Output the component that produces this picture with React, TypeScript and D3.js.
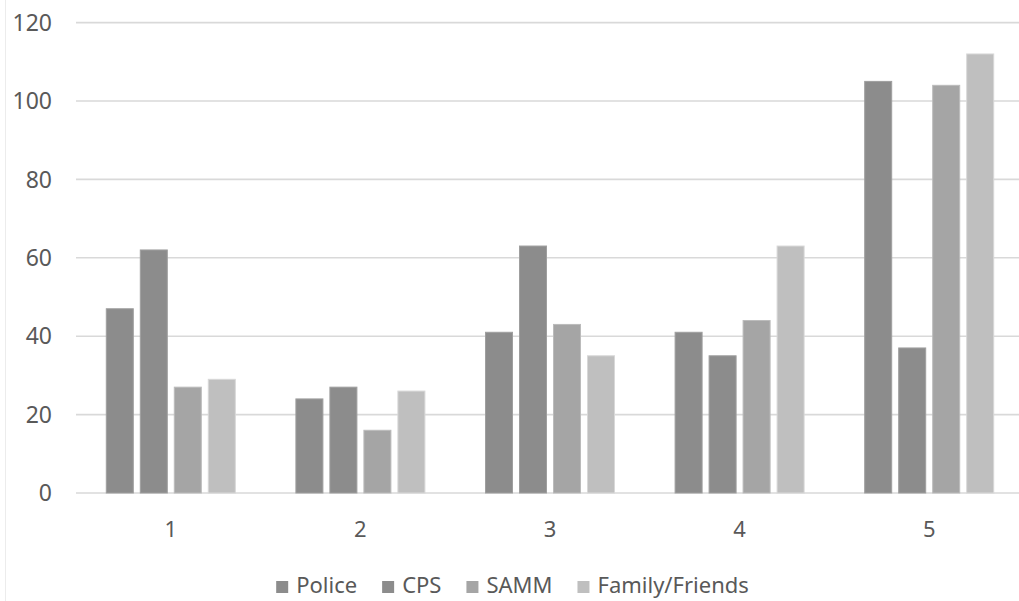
import React, { useEffect, useRef } from "react";
import * as d3 from "d3";

// Chart data
const categories = ["1", "2", "3", "4", "5"];
const seriesNames = ["Police", "CPS", "SAMM", "Family/Friends"];
const police = [47, 24, 41, 41, 105];
const cps = [62, 27, 63, 35, 37];
const samm = [27, 16, 43, 44, 104];
const familyFriends = [29, 26, 35, 63, 112];
const yTicks = [0, 20, 40, 60, 80, 100, 120];

const seriesValues = [police, cps, samm, familyFriends];
const seriesColors = ["#8c8c8c", "#8c8c8c", "#a5a5a5", "#bfbfbf"];

const W = 1019;
const H = 601;
const FONT = "'Noto Sans', 'Open Sans', sans-serif";
const TEXT = "#595959";

export default function App() {
  const ref = useRef<SVGSVGElement | null>(null);

  useEffect(() => {
    const svg = d3.select(ref.current);
    svg.selectAll("*").remove();

    const left = 76;
    const right = 1024;
    const top = 22.6;
    const bottom = 493;

    const x = d3.scaleBand<string>().domain(categories).range([left, right]);
    const y = d3.scaleLinear().domain([0, 120]).range([bottom, top]);

    // thin chart-area border at the left
    svg
      .append("line")
      .attr("x1", 5.5)
      .attr("x2", 5.5)
      .attr("y1", 0)
      .attr("y2", H)
      .attr("stroke", "#ececec")
      .attr("stroke-width", 1);

    // gridlines
    svg
      .append("g")
      .selectAll("line")
      .data(yTicks)
      .join("line")
      .attr("x1", left)
      .attr("x2", right)
      .attr("y1", (d) => y(d))
      .attr("y2", (d) => y(d))
      .attr("stroke", "#d9d9d9")
      .attr("stroke-width", 1.6);

    // y tick labels
    svg
      .append("g")
      .selectAll("text")
      .data(yTicks)
      .join("text")
      .attr("x", 52)
      .attr("y", (d) => y(d))
      .attr("dy", "0.36em")
      .attr("text-anchor", "end")
      .attr("font-family", FONT)
      .attr("font-size", 23)
      .attr("fill", TEXT)
      .text((d) => String(d));

    // bars: clustered within each category band
    const bw = x.bandwidth();
    const groupWidth = 129;
    const inner = d3
      .scaleBand<string>()
      .domain(seriesNames)
      .range([0, groupWidth])
      .paddingInner(7 / 34)
      .paddingOuter(0);
    const groupOffset = (bw - groupWidth) / 2;

    seriesNames.forEach((name, si) => {
      svg
        .append("g")
        .selectAll("rect")
        .data(seriesValues[si])
        .join("rect")
        .attr("x", (_, i) => (x(categories[i]) as number) + groupOffset + (inner(name) as number))
        .attr("y", (d) => y(d))
        .attr("width", inner.bandwidth())
        .attr("height", (d) => bottom - y(d))
        .attr("fill", seriesColors[si])
        .attr("stroke", d3.color(seriesColors[si])!.brighter(0.35).formatHex())
        .attr("stroke-width", 1);
    });

    // x labels
    svg
      .append("g")
      .selectAll("text")
      .data(categories)
      .join("text")
      .attr("x", (d) => (x(d) as number) + bw / 2)
      .attr("y", 537)
      .attr("text-anchor", "middle")
      .attr("font-family", FONT)
      .attr("font-size", 22)
      .attr("fill", TEXT)
      .text((d) => d);

    // legend
    const ctx = document.createElement("canvas").getContext("2d")!;
    ctx.font = `22px ${FONT}`;
    const sq = 12;
    const sqGap = 8;
    const itemGap = 25;
    const widths = seriesNames.map((n) => ctx.measureText(n).width);
    const total =
      widths.reduce((a, w) => a + sq + sqGap + w, 0) + itemGap * (seriesNames.length - 1);
    let cx = W / 2 + 3 - total / 2;
    const ly = 593;
    const legend = svg.append("g");
    seriesNames.forEach((n, i) => {
      legend
        .append("rect")
        .attr("x", cx)
        .attr("y", ly - 12)
        .attr("width", sq)
        .attr("height", sq)
        .attr("fill", seriesColors[i]);
      legend
        .append("text")
        .attr("x", cx + sq + sqGap)
        .attr("y", ly)
        .attr("font-family", FONT)
        .attr("font-size", 22)
        .attr("fill", TEXT)
        .text(n);
      cx += sq + sqGap + widths[i] + itemGap;
    });
  }, []);

  return (
    <svg
      ref={ref}
      width={W}
      height={H}
      style={{ position: "absolute", left: 0, top: 0, background: "#ffffff" }}
    />
  );
}
